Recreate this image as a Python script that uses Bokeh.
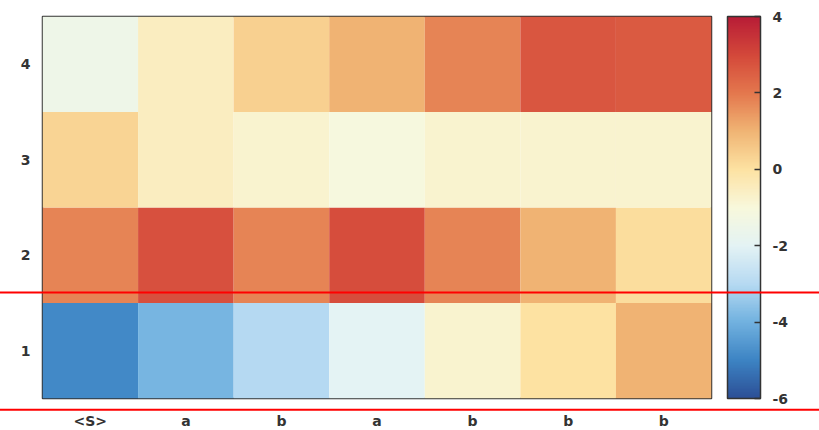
import numpy as np
from bokeh.plotting import figure
from bokeh.models import (LinearColorMapper, ColorBar, FixedTicker, ColumnDataSource)
from bokeh.embed import file_html
from bokeh.resources import INLINE

# ---- data ----
x_labels = ["<S>", "a", "b", "a", "b", "b", "b"]
y_labels = ["1", "2", "3", "4"]
row1 = [-4.9, -3.9, -3.0, -2.0, -0.8, 0.0, 1.0]
row2 = [1.8, 2.8, 1.8, 2.9, 1.8, 1.0, 0.1]
row3 = [0.3, -0.5, -0.8, -1.1, -0.8, -0.8, -0.8]
row4 = [-1.5, -0.5, 0.4, 1.0, 1.8, 2.7, 2.6]
rows = [row1, row2, row3, row4]
cbar_ticks = [-6, -4, -2, 0, 2, 4]
# red overlay rule lines (data units)
rule_y = [1.61, 0.383]
rule_x_extent = [0.05, 8.7]

# ---- colour scale ----
stop_vals = [-6, -5, -4, -3, -2, -1, 0, 1, 2, 3, 4]
stop_cols = ["#2c4f96", "#3d84c4", "#72b2e0", "#b6daf2", "#e4f3f4", "#f8f8dc",
             "#fde2a2", "#f0b474", "#e4784e", "#d4483a", "#b81c36"]

def hex2rgb(h):
    return [int(h[i:i + 2], 16) for i in (1, 3, 5)]

rgb = np.array([hex2rgb(c) for c in stop_cols], dtype=float)
grid = np.linspace(-6, 4, 256)
palette = []
for g in grid:
    r = np.interp(g, stop_vals, rgb[:, 0])
    gg = np.interp(g, stop_vals, rgb[:, 1])
    b = np.interp(g, stop_vals, rgb[:, 2])
    palette.append("#%02x%02x%02x" % (int(round(r)), int(round(gg)), int(round(b))))

mapper = LinearColorMapper(palette=palette, low=-6, high=4)

xs, ys, vs = [], [], []
for j, row in enumerate(rows):
    for i, v in enumerate(row):
        xs.append(i + 1)
        ys.append(j + 1)
        vs.append(v)
src = ColumnDataSource(dict(x=xs, y=ys, v=vs))

p = figure(frame_width=669, frame_height=382, x_range=(0.5, 7.5), y_range=(0.5, 4.5),
           output_backend="svg", toolbar_location=None,
           min_border_left=42, min_border_top=16, min_border_bottom=0, min_border_right=108)
p.rect(x="x", y="y", width=1, height=1, source=src,
       fill_color={"field": "v", "transform": mapper}, line_color=None)

p.xgrid.visible = False
p.ygrid.visible = False
p.outline_line_color = "#333333"
p.outline_line_width = 1.5
p.background_fill_color = "white"
p.border_fill_color = "white"

label_font = "DejaVu Sans"
for ax in (p.xaxis[0], p.yaxis[0]):
    ax.axis_line_color = None
    ax.major_tick_line_color = None
    ax.minor_tick_line_color = None
    ax.major_tick_out = 0
    ax.major_tick_in = 0
    ax.major_label_text_font = label_font
    ax.major_label_text_font_style = "bold"
    ax.major_label_text_font_size = "14px"
    ax.major_label_text_color = "#333333"

p.xaxis.ticker = FixedTicker(ticks=list(range(1, len(x_labels) + 1)))
p.xaxis.major_label_overrides = {i + 1: s for i, s in enumerate(x_labels)}
p.xaxis.major_label_standoff = 14
p.yaxis.ticker = FixedTicker(ticks=list(range(1, len(y_labels) + 1)))
p.yaxis.major_label_overrides = {i + 1: s for i, s in enumerate(y_labels)}
p.yaxis.major_label_standoff = 12

cb = ColorBar(color_mapper=mapper, width=33, height=382, location=(16, 0),
              padding=0, margin=0,
              ticker=FixedTicker(ticks=cbar_ticks),
              major_label_overrides={t: str(t) for t in cbar_ticks},
              major_tick_in=6, major_tick_out=0,
              major_tick_line_color="#333333", major_tick_line_width=1.5,
              minor_tick_line_color=None,
              bar_line_color="#333333", bar_line_width=1.5,
              border_line_color=None, background_fill_color=None,
              label_standoff=12,
              major_label_text_font=label_font,
              major_label_text_font_style="bold",
              major_label_text_font_size="14px",
              major_label_text_color="#333333")
p.add_layout(cb, "right")

for yc in rule_y:
    p.line(x=rule_x_extent, y=[yc, yc], line_color="#ff0000", line_width=2,
           level="overlay")

open("out.html", "w").write(file_html(p, INLINE))
